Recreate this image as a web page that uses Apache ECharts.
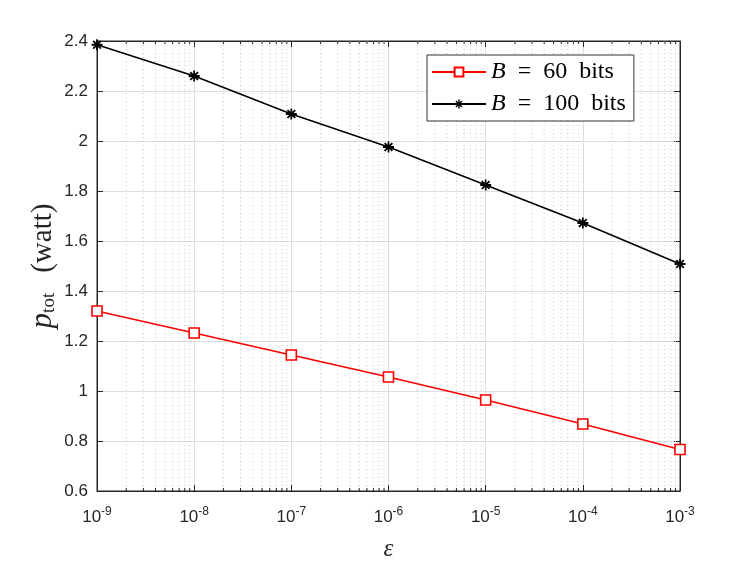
<!DOCTYPE html>
<html>
<head>
<meta charset="utf-8">
<script src="https://cdn.jsdelivr.net/npm/echarts@6/dist/echarts.min.js"></script>
<style>
  html, body { margin: 0; padding: 0; background: #fff; }
  #chart { width: 747px; height: 561px; }
</style>
</head>
<body>
<div id="chart"></div>
<script>
// epsilon values (x, log axis)
var epsValues = [1e-9, 1e-8, 1e-7, 1e-6, 1e-5, 1e-4, 1e-3];
// total power
var p60 = [1.320, 1.232, 1.144, 1.056, 0.964, 0.868, 0.766];
var p100 = [2.385, 2.260, 2.108, 1.976, 1.824, 1.672, 1.508];
var seriesNames = ['B = 60 bits', 'B = 100 bits'];
// decades that get minor grid lines (2..9 x 10^n)
var minorDecades = [-9, -8, -7, -6, -5, -4];
var minorMultipliers = [2, 3, 4, 5, 6, 7, 8, 9];

var yMin = 0.6, yMax = 2.4;

function pairs(xs, ys) {
    return xs.map(function (x, i) { return [x, ys[i]]; });
}

var minorData = [];
minorDecades.forEach(function (n) {
    minorMultipliers.forEach(function (k) {
        minorData.push([k * Math.pow(10, n), yMin]);
    });
});

var asterisk = 'path://M-0.8,-5L0.8,-5L0.8,5L-0.8,5Z' +
    'M-5,-0.8L5,-0.8L5,0.8L-5,0.8Z' +
    'M-2.93,-4.07L4.07,2.93L2.93,4.07L-4.07,-2.93Z' +
    'M2.93,-4.07L4.07,-2.93L-2.93,4.07L-4.07,2.93Z';

var tickFont = 'Liberation Sans, Arial, sans-serif';
var texFont = 'Liberation Serif, Times New Roman, serif';

var chart = echarts.init(document.getElementById('chart'));

chart.setOption({
    animation: false,
    backgroundColor: '#fff',
    grid: {
        left: 97, right: 67, top: 41, bottom: 70,
        outerBoundsMode: 'none',
        containLabel: false,
        show: true, borderColor: '#262626', borderWidth: 1,
        backgroundColor: '#fff'
    },
    legend: {
        orient: 'vertical',
        left: 427, top: 55,
        backgroundColor: '#fff',
        borderColor: '#333',
        borderWidth: 1,
        borderRadius: 0,
        padding: [5, 8, 5, 4],
        itemGap: 8,
        itemWidth: 54,
        itemHeight: 11,
        data: seriesNames,
        formatter: function (name) {
            return '{i|B}\u2002=\u2002' + name.slice(4).replace(' ', '\u2002');
        },
        textStyle: {
            fontFamily: texFont,
            fontSize: 24,
            color: '#000',
            rich: {
                i: { fontFamily: texFont, fontStyle: 'italic', fontSize: 24, color: '#000' }
            }
        }
    },
    xAxis: [{
        type: 'log',
        logBase: 10,
        min: 1e-9,
        max: 1e-3,
        name: 'ε',
        nameLocation: 'middle',
        nameMoveOverlap: false,
        nameGap: 46,
        nameTextStyle: { fontFamily: texFont, fontStyle: 'italic', fontSize: 25, color: '#262626' },
        axisLine: { show: true, lineStyle: { color: '#262626' } },
        axisTick: { show: true, inside: true, length: 6, lineStyle: { color: '#262626' } },
        axisLabel: {
            margin: 15,
            color: '#262626',
            formatter: function (v) {
                return '{b|10}{s|' + Math.round(Math.log10(v)) + '}';
            },
            rich: {
                b: { fontFamily: tickFont, fontSize: 17, color: '#262626' },
                s: { fontFamily: tickFont, fontSize: 12, color: '#262626', padding: [0, 0, 10, 0] }
            }
        },
        splitLine: { show: true, lineStyle: { color: '#dedede', width: 1 } }
    }, {
        type: 'log',
        logBase: 10,
        min: 1e-9,
        max: 1e-3,
        position: 'top',
        axisLine: { show: true, lineStyle: { color: '#262626' } },
        axisTick: { show: true, inside: true, length: 6, lineStyle: { color: '#262626' } },
        axisLabel: { show: false },
        splitLine: { show: false }
    }],
    yAxis: [{
        type: 'value',
        min: yMin,
        max: yMax,
        interval: 0.2,
        name: '{p|p}{sub|tot}\u2003{w|(watt)}',
        nameLocation: 'middle',
        nameMoveOverlap: false,
        nameRotate: 90,
        nameGap: 38,
        nameTextStyle: {
            fontSize: 20,
            rich: {
                p: { fontFamily: texFont, fontStyle: 'italic', fontSize: 31, color: '#262626' },
                sub: { fontFamily: texFont, fontSize: 19, color: '#262626', padding: [13, 0, 0, 0] },
                w: { fontFamily: texFont, fontSize: 29, color: '#262626' }
            }
        },
        axisLine: { show: true, lineStyle: { color: '#262626' } },
        axisTick: { show: true, inside: true, length: 6, lineStyle: { color: '#262626' } },
        axisLabel: {
            margin: 9,
            fontFamily: tickFont, fontSize: 17, color: '#262626',
            formatter: function (v) { return String(Math.round(v * 10) / 10); }
        },
        splitLine: { show: true, lineStyle: { color: '#dedede', width: 1 } }
    }, {
        type: 'value',
        min: yMin,
        max: yMax,
        interval: 0.2,
        position: 'right',
        axisLine: { show: true, lineStyle: { color: '#262626' } },
        axisTick: { show: true, inside: true, length: 6, lineStyle: { color: '#262626' } },
        axisLabel: { show: false },
        splitLine: { show: false }
    }],
    series: [{
        type: 'custom',
        silent: true,
        z: 1,
        data: minorData,
        encode: { x: 0, y: 1 },
        renderItem: function (params, api) {
            var cs = params.coordSys;
            var x = api.coord([api.value(0), yMin])[0];
            var top = cs.y, bottom = cs.y + cs.height;
            return {
                type: 'group',
                children: [{
                    type: 'line',
                    shape: { x1: x, y1: top, x2: x, y2: bottom },
                    style: { stroke: '#c4c4c4', lineWidth: 1, lineDash: [1, 3] }
                }, {
                    type: 'line',
                    shape: { x1: x, y1: bottom, x2: x, y2: bottom - 3 },
                    style: { stroke: '#262626', lineWidth: 1 }
                }, {
                    type: 'line',
                    shape: { x1: x, y1: top, x2: x, y2: top + 3 },
                    style: { stroke: '#262626', lineWidth: 1 }
                }]
            };
        }
    }, {
        name: seriesNames[0],
        type: 'line',
        z: 3,
        data: pairs(epsValues, p60),
        symbol: 'rect',
        symbolSize: 10,
        showAllSymbol: true,
        lineStyle: { color: '#ff0000', width: 1.6 },
        itemStyle: { color: '#fff', borderColor: '#ff0000', borderWidth: 1.6 }
    }, {
        name: seriesNames[1],
        type: 'line',
        z: 3,
        data: pairs(epsValues, p100),
        symbol: asterisk,
        symbolSize: 11,
        showAllSymbol: true,
        lineStyle: { color: '#000', width: 1.6 },
        itemStyle: { color: '#000', borderWidth: 0 }
    }]
});
</script>
</body>
</html>
